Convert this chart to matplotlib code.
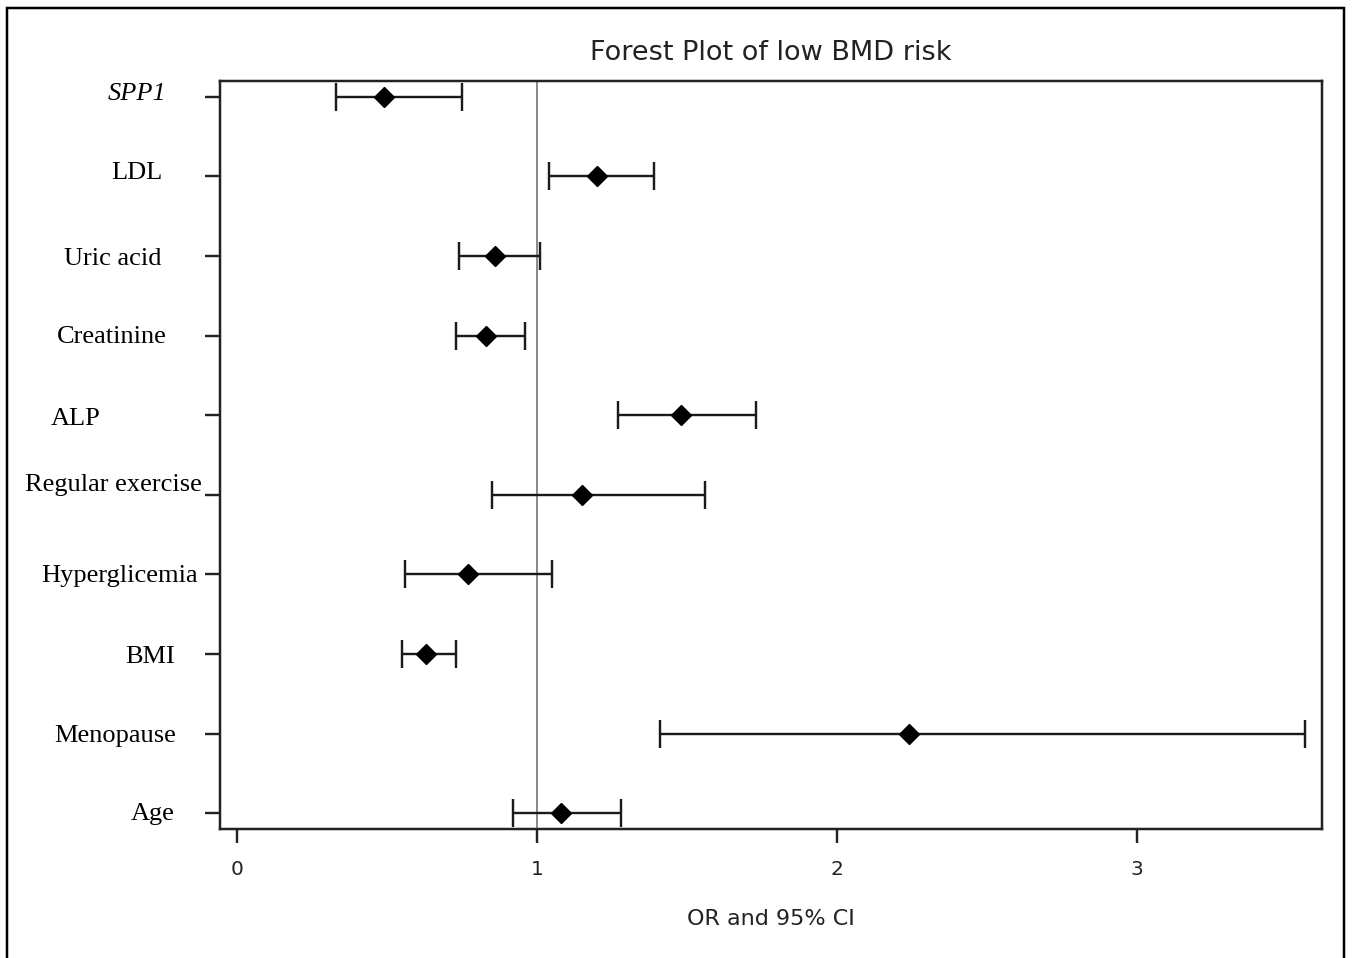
import matplotlib
matplotlib.use("Agg")
import matplotlib.pyplot as plt
from matplotlib.patches import Rectangle
import numpy as np

# odds ratios and 95% CI (top to bottom)
factors = ["SPP1", "LDL", "Uric acid", "Creatinine", "ALP", "Regular exercise",
           "Hyperglicemia", "BMI", "Menopause", "Age"]
odds = [0.49, 1.20, 0.86, 0.83, 1.48, 1.15, 0.77, 0.63, 2.24, 1.08]
ci_low = [0.33, 1.04, 0.74, 0.73, 1.27, 0.85, 0.56, 0.55, 1.41, 0.92]
ci_high = [0.75, 1.39, 1.01, 0.96, 1.73, 1.56, 1.05, 0.73, 3.56, 1.28]
x_ticks = [0, 1, 2, 3]

# where the row labels sit (pixels): right edge, and baseline shift below the tick
label_right_px = [166, 162, 162, 167, 100, 202, 198, 175, 176, 175]
label_base_px = [3, 3, 9, 7, 10, -4, 8, 9, 8, 7]

W, H, DPI = 1352, 958, 100
fig = plt.figure(figsize=(W / DPI, H / DPI), dpi=DPI)
px = 72 / DPI  # points per pixel

ax_l, ax_r, ax_t, ax_b = 220, 1322, 81, 829
ax = fig.add_axes([ax_l / W, 1 - ax_b / H, (ax_r - ax_l) / W, (ax_b - ax_t) / H])

# outer frame (open at the bottom, cut off in the original)
fig.patches.append(Rectangle((7 / W, -0.05), (1344 - 7) / W, 1.05 - 8 / H,
                             transform=fig.transFigure, fill=False,
                             edgecolor="black", linewidth=2.5 * px, clip_on=False))

n = len(factors)
ypos = np.arange(n, 0, -1)
odds = np.array(odds)
err = [odds - np.array(ci_low), np.array(ci_high) - odds]

ax.axvline(1, color="#8c8c8c", linewidth=2 * px, zorder=1)
ax.errorbar(odds, ypos, xerr=err, fmt="D", color="black", markersize=10.5,
            elinewidth=2.4 * px, capsize=10, capthick=2.4 * px, ecolor="#1a1a1a", zorder=3)

ax.set_xlim(-0.057, 3.617)
ax.set_ylim(0.80, n + 0.20)
ax.set_xticks(x_ticks)
ax.set_xticklabels([str(t) for t in x_ticks], fontsize=14.5, color="#222222",
                   family="DejaVu Sans")
ax.set_yticks(ypos)
ax.set_yticklabels([])
ax.tick_params(axis="x", direction="out", length=14 * px, width=2.4 * px, pad=12,
               color="#222222")
ax.tick_params(axis="y", direction="out", length=15 * px, width=2.4 * px, color="#222222")
for s in ax.spines.values():
    s.set_linewidth(2.5 * px)
    s.set_color("#222222")

for i, name in enumerate(factors):
    style = "italic" if name == "SPP1" else "normal"
    ax.annotate(name, xy=(0, ypos[i]), xycoords=("axes fraction", "data"),
                xytext=((label_right_px[i] - ax_l) * px, -label_base_px[i] * px),
                textcoords="offset points", ha="right", va="baseline",
                fontsize=19, family="Liberation Serif", fontstyle=style, color="black")

ax.set_title("Forest Plot of low BMD risk", fontsize=19.5, color="#222222",
             family="DejaVu Sans", pad=15)
ax.set_xlabel("OR and 95% CI", fontsize=16, color="#222222", family="DejaVu Sans",
              labelpad=22)

fig.savefig("out.png", dpi=DPI)
